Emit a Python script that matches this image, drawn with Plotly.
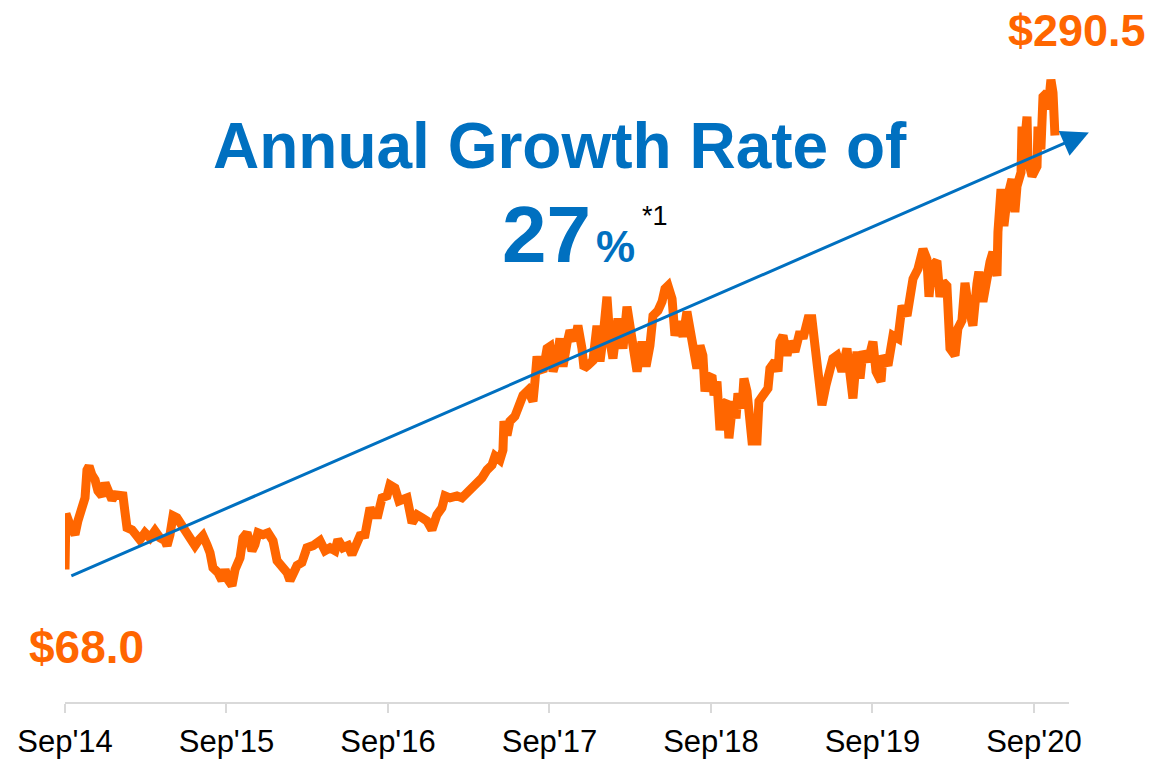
import plotly.graph_objects as go

# share price, years elapsed since Sep'14
yrs = [
    0.000, 0.006, 0.031, 0.062, 0.080, 0.105, 0.124, 0.136, 0.149, 0.167,
    0.186, 0.204, 0.229, 0.248, 0.266, 0.291, 0.310, 0.341, 0.359, 0.372,
    0.384, 0.415, 0.446, 0.464, 0.495, 0.526, 0.557, 0.588, 0.619, 0.632,
    0.650, 0.669, 0.693, 0.724, 0.755, 0.786, 0.805, 0.830, 0.854, 0.879,
    0.898, 0.916, 0.947, 0.972, 0.991, 1.009, 1.034, 1.053, 1.084, 1.102,
    1.127, 1.158, 1.176, 1.195, 1.226, 1.257, 1.288, 1.313, 1.344, 1.375,
    1.393, 1.412, 1.437, 1.467, 1.498, 1.536, 1.579, 1.610, 1.641, 1.672,
    1.690, 1.721, 1.752, 1.777, 1.796, 1.827, 1.858, 1.889, 1.907, 1.938,
    1.963, 1.994, 2.012, 2.043, 2.068, 2.087, 2.118, 2.149, 2.180, 2.211,
    2.241, 2.272, 2.303, 2.334, 2.353, 2.384, 2.427, 2.458, 2.489, 2.520,
    2.551, 2.582, 2.613, 2.644, 2.663, 2.693, 2.712, 2.718, 2.737, 2.755,
    2.786, 2.817, 2.836, 2.867, 2.898, 2.910, 2.923, 2.941, 2.960, 2.985,
    3.003, 3.022, 3.046, 3.065, 3.084, 3.108, 3.127, 3.158, 3.176, 3.201,
    3.214, 3.238, 3.269, 3.294, 3.313, 3.331, 3.356, 3.375, 3.393, 3.424,
    3.455, 3.480, 3.505, 3.529, 3.542, 3.573, 3.598, 3.622, 3.641, 3.672,
    3.697, 3.715, 3.734, 3.759, 3.777, 3.802, 3.827, 3.851, 3.889, 3.913,
    3.932, 3.950, 3.963, 3.981, 4.006, 4.019, 4.037, 4.056, 4.074, 4.099,
    4.111, 4.136, 4.155, 4.167, 4.192, 4.204, 4.223, 4.241, 4.254, 4.285,
    4.297, 4.322, 4.353, 4.365, 4.396, 4.415, 4.427, 4.446, 4.471, 4.489,
    4.520, 4.551, 4.570, 4.601, 4.625, 4.644, 4.663, 4.687, 4.712, 4.737,
    4.755, 4.780, 4.811, 4.842, 4.861, 4.879, 4.904, 4.923, 4.941, 4.972,
    5.003, 5.022, 5.053, 5.065, 5.096, 5.127, 5.158, 5.183, 5.214, 5.232,
    5.251, 5.282, 5.313, 5.337, 5.350, 5.368, 5.399, 5.418, 5.437, 5.461,
    5.467, 5.480, 5.511, 5.529, 5.554, 5.573, 5.591, 5.622, 5.647, 5.659,
    5.684, 5.709, 5.728, 5.746, 5.771, 5.777, 5.796, 5.814, 5.833, 5.864,
    5.882, 5.895, 5.920, 5.926, 5.938, 5.957, 5.963, 5.988, 6.019, 6.025,
    6.043, 6.056, 6.081, 6.087, 6.105, 6.118, 6.130,
]
price = [
    68.0, 96.5, 90.9, 85.8, 92.9, 101.1, 104.7, 119.0, 121.0, 116.4,
    113.9, 108.2, 105.7, 112.3, 108.2, 103.7, 106.2, 105.7, 105.7, 97.0,
    89.4, 88.3, 85.8, 83.2, 86.8, 84.2, 87.8, 84.2, 82.7, 80.2,
    85.8, 95.5, 94.5, 90.4, 86.8, 84.2, 80.2, 83.2, 85.3, 80.7,
    76.6, 68.9, 66.4, 62.3, 67.9, 62.8, 59.7, 67.9, 74.0, 84.2,
    86.8, 77.6, 80.7, 86.8, 85.8, 86.8, 82.7, 72.5, 70.0, 66.4,
    62.3, 65.4, 70.0, 71.5, 79.1, 80.2, 82.7, 77.6, 79.1, 77.6,
    83.2, 79.1, 80.2, 75.6, 80.7, 85.3, 85.8, 99.6, 96.0, 96.0,
    104.7, 105.7, 111.3, 109.8, 103.1, 103.7, 104.7, 91.9, 96.0, 94.5,
    92.9, 88.3, 96.0, 99.6, 105.7, 104.7, 105.7, 104.7, 107.2, 110.8,
    112.3, 114.9, 119.0, 121.5, 126.1, 124.1, 129.2, 144.0, 136.8, 144.0,
    146.5, 152.2, 157.3, 159.8, 154.2, 164.4, 177.2, 171.1, 169.5, 181.3,
    182.3, 169.5, 176.2, 186.4, 172.1, 183.8, 190.5, 185.3, 193.0, 181.3,
    171.1, 172.6, 175.1, 193.0, 174.6, 186.4, 207.8, 184.8, 176.2, 196.6,
    181.3, 202.7, 189.9, 179.7, 169.5, 184.8, 172.1, 182.8, 198.1, 200.7,
    205.3, 211.9, 213.4, 206.8, 187.9, 195.0, 187.4, 200.2, 182.8, 171.1,
    182.8, 177.7, 159.3, 165.9, 167.5, 157.3, 164.4, 139.4, 152.2, 154.2,
    135.3, 154.2, 145.5, 158.3, 150.6, 165.9, 159.3, 141.9, 133.8, 133.8,
    154.2, 157.3, 160.8, 171.1, 174.6, 169.5, 184.8, 187.9, 177.7, 184.8,
    179.7, 189.9, 186.4, 196.6, 196.6, 182.8, 165.9, 152.2, 162.4, 171.1,
    176.2, 177.7, 169.5, 181.3, 169.5, 155.7, 179.7, 165.9, 179.7, 174.6,
    184.8, 169.5, 164.4, 177.7, 172.6, 187.9, 186.4, 203.2, 198.1, 206.8,
    217.0, 222.1, 232.3, 227.2, 207.8, 223.6, 226.2, 207.8, 215.5, 213.4,
    200.2, 181.3, 177.7, 191.5, 195.6, 215.0, 204.2, 193.0, 214.5, 220.6,
    205.3, 220.6, 225.7, 230.8, 218.5, 241.0, 263.0, 244.1, 257.9, 268.1,
    251.2, 264.5, 271.6, 295.1, 283.4, 300.2, 278.3, 269.6, 274.7, 295.1,
    283.4, 310.4, 312.5, 303.8, 319.1, 312.5, 290.5,
]

tick_yrs = [0, 1, 2, 3, 4, 5, 6]
tick_labels = ["Sep'14", "Sep'15", "Sep'16", "Sep'17", "Sep'18", "Sep'19", "Sep'20"]

# trend arrow (27% annual growth)
trend_x = [0.03, 6.34]
trend_y = [64.3, 292.0]

ORANGE = "#FF6600"
BLUE = "#0070C0"
FONT = "Liberation Sans"

fig = go.Figure()
fig.add_trace(go.Scatter(x=yrs, y=price, mode="lines",
                         line=dict(color=ORANGE, width=9),
                         hoverinfo="skip", showlegend=False))

fig.add_annotation(x=trend_x[1], y=trend_y[1], ax=trend_x[0], ay=trend_y[0],
                   xref="x", yref="y", axref="x", ayref="y", text="",
                   showarrow=True, arrowhead=2, arrowsize=1.8, arrowwidth=3,
                   arrowcolor=BLUE, standoff=0, startstandoff=0)

def label(text, x, y, size, color, bold=True):
    fig.add_annotation(x=x, y=y, xref="paper", yref="paper", text=text,
                       showarrow=False, xanchor="center", yanchor="middle",
                       font=dict(family=FONT, size=size, color=color,
                                 weight="bold" if bold else "normal"))

label("$68.0", 0.0219, 0.079, 46, ORANGE)
label("$290.5", 1.008, 0.968, 45, ORANGE)
label("Annual Growth Rate of", 0.493, 0.801, 64, BLUE)
label("27", 0.480, 0.674, 80, BLUE)
label("%", 0.548, 0.656, 44, BLUE)
label("*1", 0.588, 0.700, 27, "black", bold=False)

# the page puts the figure 8px in from the top-left corner
fig.update_layout(
    width=1150, height=751,
    margin=dict(l=57, r=89, t=0, b=54),
    plot_bgcolor="white", paper_bgcolor="white",
    xaxis=dict(range=[0, 6.217], tickvals=tick_yrs, ticktext=tick_labels,
               showgrid=False, zeroline=False, showline=True,
               linecolor="#D9D9D9", linewidth=2, ticks="outside",
               ticklen=9, tickwidth=2, tickcolor="#D9D9D9",
               ticklabelstandoff=2,
               tickfont=dict(family=FONT, size=31, color="black")),
    yaxis=dict(range=[0, 355.9], visible=False),
)

fig.write_html("out.html")
